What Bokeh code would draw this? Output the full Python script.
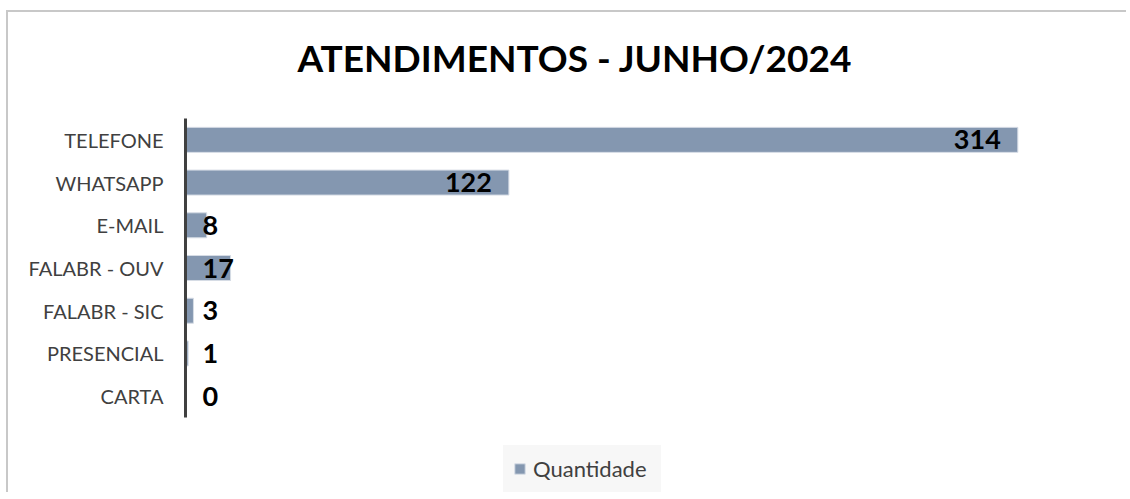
from bokeh.plotting import figure
from bokeh.models import ColumnDataSource, Range1d, Legend, LegendItem, FixedTicker
from bokeh.core.properties import value
from bokeh.embed import file_html
from bokeh.resources import INLINE

title_text = "ATENDIMENTOS - JUNHO/2024"
series_name = "Quantidade"
categories = ["TELEFONE", "WHATSAPP", "E-MAIL", "FALABR - OUV", "FALABR - SIC", "PRESENCIAL", "CARTA"]
quantidade = [314, 122, 8, 17, 3, 1, 0]

FONT = "Lato"
BAR = "#8497B0"
EDGE = "#C8C8C8"

n = len(categories)
y_pos = [n - i - 0.5 for i in range(n)]   # first category at the top

threshold = 30
label_x = [v if v > threshold else 0 for v in quantidade]
label_align = ["right" if v > threshold else "left" for v in quantidade]
label_xoff = [-17 if v > threshold else 17 for v in quantidade]

src = ColumnDataSource(dict(
    y=y_pos, cat=categories, val=quantidade, lx=label_x, la=label_align, lxo=label_xoff,
    lbl=[str(v) for v in quantidade],
))

p = figure(
    width=1120, height=482,
    y_range=Range1d(-1.756, n + 0.609),
    x_range=Range1d(0, 355),
    output_backend="svg", toolbar_location=None,
    min_border_left=179, min_border_right=0, min_border_top=82, min_border_bottom=0,
)
p.margin = (10, 0, 0, 6)
p.border_fill_alpha = 0
p.styles = {
    "background": (f"linear-gradient({EDGE},{EDGE}) 0 0 / 2px 100% no-repeat, "
                   f"linear-gradient({EDGE},{EDGE}) 0 0 / 100% 2px no-repeat, white"),
}

bars = p.hbar(y="y", right="val", height=0.585, fill_color=BAR, line_color="#D6DCE5",
              line_width=1, source=src)

p.text(x="lx", y="y", text="lbl", text_align="la", x_offset="lxo", text_baseline="middle",
       text_font=value(FONT), text_font_style="bold", text_font_size="27px", text_color="black",
       source=src)

p.title.text = title_text
p.title.align = "left"
p.title.offset = 112
p.title.text_font = FONT
p.title.text_font_size = "37px"
p.title.text_font_style = "bold"
p.title.text_color = "black"
p.title.standoff = 25

p.xaxis.visible = False
p.xgrid.visible = False
p.ygrid.visible = False
p.outline_line_color = None

ya = p.yaxis[0]
ya.ticker = FixedTicker(ticks=y_pos)
ya.major_label_overrides = {yy: c for yy, c in zip(y_pos, categories)}
ya.bounds = (0, n)
ya.axis_line_color = "#404040"
ya.axis_line_width = 3
ya.major_tick_line_color = None
ya.minor_tick_line_color = None
ya.major_label_text_font = FONT
ya.major_label_text_font_size = "20px"
ya.major_label_text_color = "#404040"
ya.major_label_standoff = 16

legend = Legend(
    items=[LegendItem(label=series_name, renderers=[bars])],
    location=(318, 0), orientation="horizontal",
    background_fill_color="#F7F7F7", background_fill_alpha=1.0,
    border_line_color="#F7F7F7", border_line_width=1, margin=0, padding=9,
    glyph_width=13, glyph_height=13, label_standoff=7, label_width=118, label_height=20,
    label_text_font=FONT, label_text_font_size="22px", label_text_color="#404040",
)
p.add_layout(legend)

open("out.html", "w").write(file_html(p, INLINE))
